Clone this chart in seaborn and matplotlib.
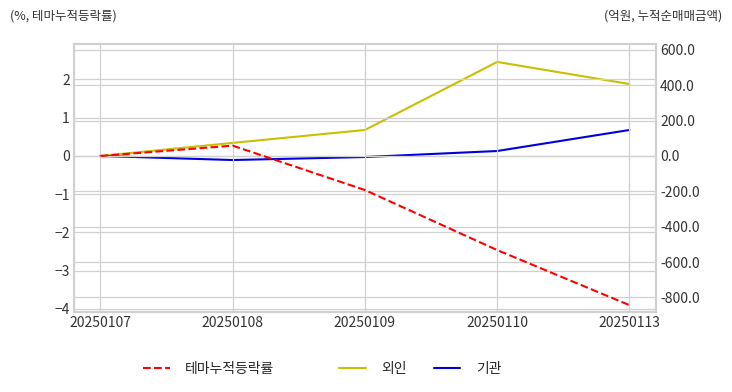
import numpy as np
import pandas as pd
import matplotlib
matplotlib.use('Agg')
import matplotlib.pyplot as plt
import seaborn as sns

dates = ['20250107', '20250108', '20250109', '20250110', '20250113']
theme_rate = [0.0, 0.27, -0.89, -2.46, -3.90]      # %, left axis
foreign = [0.0, 74.0, 147.0, 532.0, 407.0]          # 억원, right axis
institution = [0.0, -23.0, -6.0, 28.0, 147.0]       # 억원, right axis

left_ticks = [-4, -3, -2, -1, 0, 1, 2]
right_ticks = [-800, -600, -400, -200, 0, 200, 400, 600]

sns.set_theme(style='whitegrid')
plt.rcParams['font.family'] = ['Noto Sans CJK KR', 'DejaVu Sans']

df = pd.DataFrame({'date': dates, 'rate': theme_rate,
                   'foreign': foreign, 'inst': institution})
df['x'] = np.arange(len(dates))

fig = plt.figure(figsize=(7.32, 3.92), dpi=100)
ax = fig.add_axes([0.101, 0.204, 0.795, 0.684])
ax2 = ax.twinx()

grid_c = '#d0d0d0'
sns.lineplot(data=df, x='x', y='rate', ax=ax, color='red', linestyle='--',
             linewidth=1.5, label='테마누적등락률', legend=False)
sns.lineplot(data=df, x='x', y='foreign', ax=ax2, color='#c8c000',
             linewidth=1.5, label='외인', legend=False)
sns.lineplot(data=df, x='x', y='inst', ax=ax2, color='#0000dd',
             linewidth=1.5, label='기관', legend=False)

ax.set_xlim(-0.2, len(dates) - 1 + 0.2)
ax.set_xticks(df['x'])
ax.set_xticklabels(dates)
ax.set_ylim(-4.08, 2.93)
ax.set_yticks(left_ticks)
ax2.set_ylim(-883, 634)
ax2.set_yticks(right_ticks)
ax2.set_yticklabels([f'{v:.1f}' for v in right_ticks])

for a in (ax, ax2):
    a.set_xlabel('')
    a.set_ylabel('')
    a.grid(True, color=grid_c, linewidth=0.9)
    a.tick_params(labelsize=10, colors='#333333', length=0, pad=3)
    for s in a.spines.values():
        s.set_color(grid_c)
        s.set_linewidth(1.5)
ax2.grid(axis='x', visible=False)
ax.set_zorder(ax2.get_zorder() + 1)
ax.patch.set_visible(False)

fig.text(0.014, 0.96, '(%, 테마누적등락률)', fontsize=9, color='#333333', va='center')
fig.text(0.986, 0.96, '(억원, 누적순매매금액)', fontsize=9, color='#333333',
         va='center', ha='right')

h1, l1 = ax.get_legend_handles_labels()
h2, l2 = ax2.get_legend_handles_labels()
leg_kw = dict(frameon=False, fontsize=10, handlelength=1.9, handletextpad=1.1,
              columnspacing=2.0)
fig.legend(h1, l1, loc='center', bbox_to_anchor=(0.285, 0.058), ncol=1, **leg_kw)
fig.legend(h2, l2, loc='center', bbox_to_anchor=(0.574, 0.058), ncol=2, **leg_kw)

fig.savefig('out.png', dpi=100)
